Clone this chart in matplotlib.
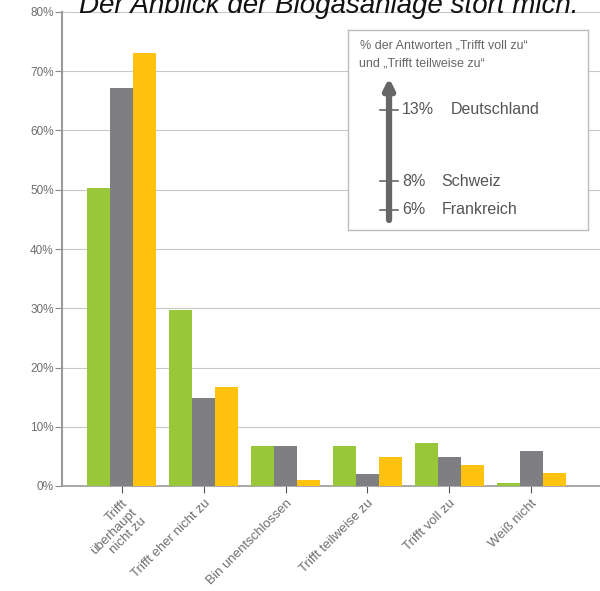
import matplotlib
matplotlib.use("Agg")
import matplotlib.pyplot as plt
import numpy as np

categories = ["Trifft\nüberhaupt\nnicht zu", "Trifft eher nicht zu", "Bin unentschlossen",
              "Trifft teilweise zu", "Trifft voll zu", "Weiß nicht"]
schweiz = [50.3, 29.7, 6.8, 6.8, 7.3, 0.5]
deutschland = [67.2, 14.9, 6.8, 2.0, 4.9, 5.9]
frankreich = [73.1, 16.7, 1.0, 4.9, 3.5, 2.2]
yticks = [0, 10, 20, 30, 40, 50, 60, 70, 80]
legend_vals = [13, 8, 6]
legend_names = ["Deutschland", "Schweiz", "Frankreich"]

green = "#99c73a"
gray = "#7f7f83"
yellow = "#ffc20e"
txt = "#6e6e6e"

plt.rcParams['font.family'] = ['Liberation Sans', 'DejaVu Sans']
fig = plt.figure(figsize=(6, 5.91), dpi=100)
ax = fig.add_axes([62/600, (591-486)/591, (600-62)/600, (486-12)/591])

x = np.arange(len(categories))
w = 0.28
ax.bar(x - w, schweiz, w, color=green, zorder=3)
ax.bar(x, deutschland, w, color=gray, zorder=3)
ax.bar(x + w, frankreich, w, color=yellow, zorder=3)

ax.set_ylim(0, 80)
ax.set_xlim(-0.73, 5.84)
ax.set_yticks(yticks)
ax.set_yticklabels([f"{v}%" for v in yticks], fontsize=8.5, color=txt)
ax.yaxis.grid(True, color="#c8c8c8", linewidth=0.8, zorder=0)
ax.set_xticks(x)
ax.set_xticklabels(categories, rotation=45, ha="right", rotation_mode="anchor",
                   fontsize=9.5, color=txt, linespacing=1.1)
ax.tick_params(axis="y", length=5, color="#888888", pad=1)
ax.tick_params(axis="x", length=5, color="#555555", pad=3)
for s in ["top", "right"]:
    ax.spines[s].set_visible(False)
ax.spines["left"].set_color("#9a9a9a")
ax.spines["left"].set_linewidth(1.5)
ax.spines["bottom"].set_color("#9a9a9a")
ax.spines["bottom"].set_linewidth(1.2)

fig.text(329/600, 1 - 13/591, "Der Anblick der Biogasanlage stört mich.", ha="center", va="baseline",
         fontsize=20, style="italic", color="#111111")

# legend-like inset
lax = fig.add_axes([348/600, (591-230)/591, 240/600, 200/591])
lax.set_xlim(0, 1)
lax.set_ylim(4.6, 18.6)
lax.set_xticks([])
lax.set_yticks([])
for s in lax.spines.values():
    s.set_color("#bdbdbd")
    s.set_linewidth(1.0)
lax.annotate("", xy=(0.171, 15.25), xytext=(0.171, 5.3),
             arrowprops=dict(arrowstyle="-|>,head_width=0.3,head_length=0.6",
                             color="#666666", lw=4.5, shrinkA=0, shrinkB=0))
for v, n in zip(legend_vals, legend_names):
    lax.plot([0.133, 0.208], [v, v], color="#666666", lw=1.2)
    lax.text(0.225, v, f"{v}%", fontsize=11.5, va="center", color="#555555")
    lax.text(0.43 if n == "Deutschland" else 0.39, v, n, fontsize=11.5, va="center", color="#555555")
lax.text(0.05, 17.55, "% der Antworten \u201eTrifft voll zu\u201c", fontsize=9, va="center", color="#666666")
lax.text(0.045, 16.29, "und \u201eTrifft teilweise zu\u201c", fontsize=9, va="center", color="#666666")

fig.savefig("out.png", dpi=100)
